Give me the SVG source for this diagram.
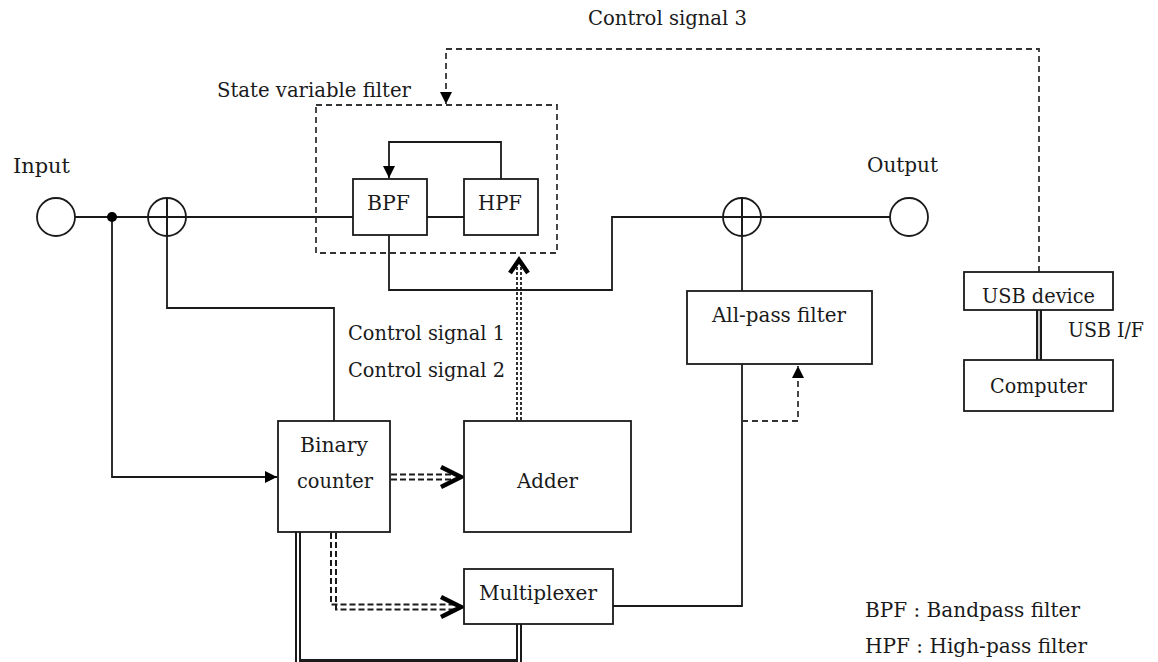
<svg xmlns="http://www.w3.org/2000/svg" width="1158" height="662" viewBox="0 0 1158 662">
<style>
text{font-family:"DejaVu Serif","Liberation Serif",serif;font-size:20px;fill:#1a1a1a}
.box{fill:#fff;stroke:#1a1a1a;stroke-width:1.8}
.ln{fill:none;stroke:#1a1a1a;stroke-width:1.8}
.dash{fill:none;stroke:#333;stroke-width:1.8;stroke-dasharray:6 4}
.dd{fill:none;stroke:#1a1a1a;stroke-width:2;stroke-dasharray:6 3}
.dot{fill:none;stroke:#1a1a1a;stroke-width:1.8;stroke-dasharray:3 2}
.chev{fill:none;stroke:#000;stroke-width:4.5;stroke-linejoin:miter}
.dblo{fill:none;stroke:#1a1a1a;stroke-width:6}
.dbli{fill:none;stroke:#fff;stroke-width:2}
.circ{fill:#fff;stroke:#1a1a1a;stroke-width:1.8}
</style>
<defs>
<marker id="tri" markerUnits="userSpaceOnUse" viewBox="0 0 12 12" refX="12" refY="6" markerWidth="12" markerHeight="12" orient="auto">
<path d="M0,0 L12,6 L0,12 z" fill="#000"/>
</marker>
</defs>

<g id="connectors">
<!-- main signal line input to BPF -->
<path class="ln" d="M75,217 H353"/>
<path class="ln" d="M112,217 V477 H277" marker-end="url(#tri)"/>
<path class="ln" d="M167,198 V308 H334 V421"/>
<path class="ln" d="M427,217 H464"/>
<path class="ln" d="M501,179 V142 H389 V178" marker-end="url(#tri)"/>
<path class="ln" d="M389,235 V290 H612 V217 H890"/>
<path class="ln" d="M742,198 V291"/>
<path class="ln" d="M613,606 H742 V364"/>
<path class="dash" d="M742,421 H798 V366" marker-end="url(#tri)"/>
<path class="dash" d="M1039,272 V49 H446 V104" marker-end="url(#tri)"/>
<!-- binary counter to adder -->
<path class="dd" d="M391,474.5 H456"/>
<path class="dd" d="M391,479.5 H456"/>
<polyline class="chev" points="441,467 461,477 441,487"/>
<!-- binary counter to multiplexer -->
<path class="dd" d="M331,533 V604.5 H456"/>
<path class="dd" d="M336,533 V609.5 H456"/>
<polyline class="chev" points="441,597 461,607 441,617"/>
<!-- adder to state variable filter -->
<path class="dot" d="M517,420 V266"/>
<path class="dot" d="M521,420 V266"/>
<polyline class="chev" points="510,273 519,260 528,273"/>
<!-- double solid lines -->
<path class="dblo" d="M298,532 V662 H519 V624"/>
<path class="dbli" d="M298,532 V664 H519 V624"/>
<path class="dblo" d="M1039,310 V360"/>
<path class="dbli" d="M1039,310 V360" style="stroke-width:1.5"/>
</g>

<g id="input">
<circle class="circ" cx="56" cy="217" r="19"/>
<text x="13" y="173" textLength="57" lengthAdjust="spacingAndGlyphs">Input</text>
</g>
<g id="junction"><circle cx="112" cy="217" r="5" fill="#000"/></g>
<g id="sum1">
<circle cx="167" cy="217" r="19" fill="none" stroke="#1a1a1a" stroke-width="1.8"/>
<path class="ln" d="M167,198 V236"/>
</g>
<g id="sum2">
<circle cx="742" cy="217" r="19" fill="none" stroke="#1a1a1a" stroke-width="1.8"/>
<path class="ln" d="M742,198 V236"/>
</g>
<g id="output">
<circle class="circ" cx="909" cy="217" r="19"/>
<text x="867" y="172" textLength="71" lengthAdjust="spacingAndGlyphs">Output</text>
</g>

<g id="state-variable-filter">
<rect x="316" y="105" width="241" height="148" class="dash"/>
<text x="217" y="97" textLength="194" lengthAdjust="spacingAndGlyphs">State variable filter</text>
</g>
<g id="bpf">
<rect class="box" x="353" y="179" width="74" height="56"/>
<text x="367" y="210" textLength="43" lengthAdjust="spacingAndGlyphs">BPF</text>
</g>
<g id="hpf">
<rect class="box" x="464" y="179" width="74" height="56"/>
<text x="478" y="210" textLength="44" lengthAdjust="spacingAndGlyphs">HPF</text>
</g>

<g id="allpass">
<rect class="box" x="687" y="291" width="185" height="73"/>
<text x="712" y="322" textLength="134" lengthAdjust="spacingAndGlyphs">All-pass filter</text>
</g>

<g id="usb-device">
<rect class="box" x="964" y="272" width="149" height="38"/>
<text x="982" y="303" textLength="113" lengthAdjust="spacingAndGlyphs">USB device</text>
</g>
<g id="computer">
<rect class="box" x="964" y="360" width="149" height="51"/>
<text x="990" y="393" textLength="97" lengthAdjust="spacingAndGlyphs">Computer</text>
</g>
<g id="usb-if-label">
<text x="1068" y="337" textLength="76" lengthAdjust="spacingAndGlyphs">USB I/F</text>
</g>

<g id="binary-counter">
<rect class="box" x="278" y="421" width="112" height="111"/>
<text x="300" y="452" textLength="68" lengthAdjust="spacingAndGlyphs">Binary</text>
<text x="297" y="488" textLength="76" lengthAdjust="spacingAndGlyphs">counter</text>
</g>
<g id="adder">
<rect class="box" x="464" y="421" width="167" height="111"/>
<text x="517" y="488" textLength="61" lengthAdjust="spacingAndGlyphs">Adder</text>
</g>
<g id="multiplexer">
<rect class="box" x="464" y="569" width="149" height="55"/>
<text x="479" y="600" textLength="118" lengthAdjust="spacingAndGlyphs">Multiplexer</text>
</g>

<g id="labels">
<text x="588" y="25" textLength="159" lengthAdjust="spacingAndGlyphs">Control signal 3</text>
<text x="348" y="340" textLength="157" lengthAdjust="spacingAndGlyphs">Control signal 1</text>
<text x="348" y="377" textLength="157" lengthAdjust="spacingAndGlyphs">Control signal 2</text>
<text x="865" y="617" textLength="215" lengthAdjust="spacingAndGlyphs">BPF : Bandpass filter</text>
<text x="865" y="653" textLength="222" lengthAdjust="spacingAndGlyphs">HPF : High-pass filter</text>
</g>
</svg>
